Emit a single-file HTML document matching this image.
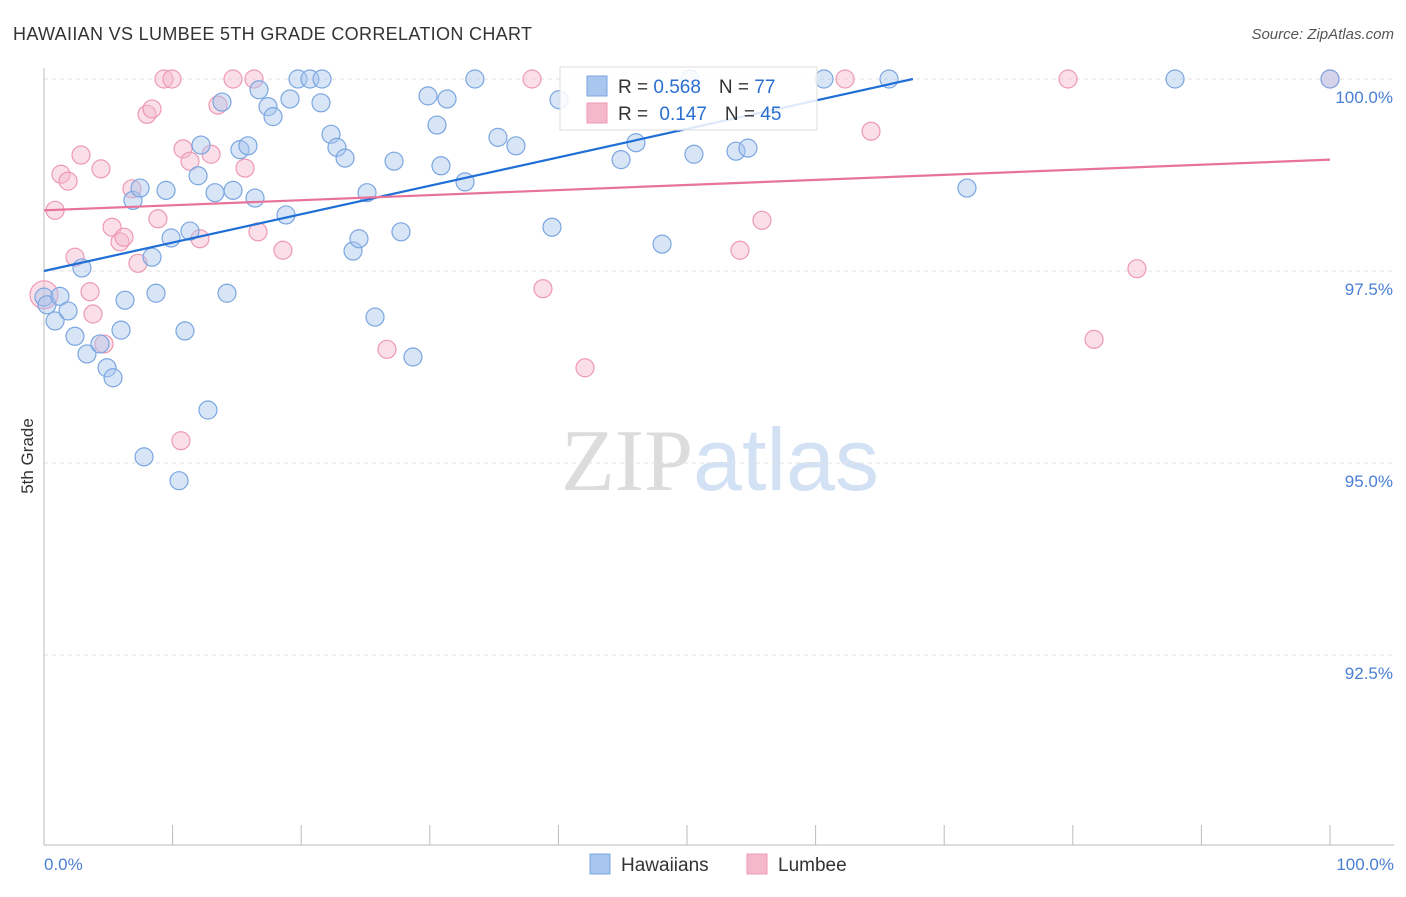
<!DOCTYPE html>
<html><head><meta charset="utf-8"><style>
body{margin:0;background:#fff;font-family:"Liberation Sans",sans-serif}
svg text{font-family:"Liberation Sans",sans-serif}
</style></head><body>
<svg id="chart" width="1406" height="892" viewBox="0 0 1406 892" xmlns="http://www.w3.org/2000/svg">
<text x="13" y="40" font-size="18" textLength="519" fill="#333">HAWAIIAN VS LUMBEE 5TH GRADE CORRELATION CHART</text>
<text x="1394" y="39" font-size="15" fill="#555" font-style="italic" text-anchor="end">Source: ZipAtlas.com</text>
<text x="720" y="490" font-size="88" text-anchor="middle"><tspan fill="#dcdcdc" font-family="Liberation Serif">ZIP</tspan><tspan fill="#d3e1f4">atlas</tspan></text>
<g id="grid"></g>
<g id="axes"></g>
<g id="pinkPts"></g>
<g id="bluePts"></g>
<g id="trends"></g>
<text transform="translate(33,456) rotate(-90)" font-size="17" fill="#333" text-anchor="middle">5th Grade</text>
<g>
<rect x="560" y="67" width="257" height="63" fill="#fff" fill-opacity="0.85" stroke="#ddd"/>
<rect x="587" y="76" width="20" height="20" fill="#a9c6ee" stroke="#7aa6e0"/>
<rect x="587" y="103" width="20" height="20" fill="#f5b8cb" stroke="#ee99b4"/>
<text x="618" y="93" font-size="19" fill="#333">R = <tspan fill="#2a6fd0">0.568</tspan><tspan dx="18">N = </tspan><tspan fill="#2a6fd0">77</tspan></text>
<text x="618" y="120" font-size="19" fill="#333">R = <tspan dx="6" fill="#2a6fd0">0.147</tspan><tspan dx="18">N = </tspan><tspan fill="#2a6fd0">45</tspan></text>
</g>
<g>
<rect x="590" y="854" width="20" height="20" fill="#a9c6ee" stroke="#7aa6e0"/>
<text x="621" y="871" font-size="19" fill="#333">Hawaiians</text>
<rect x="747" y="854" width="20" height="20" fill="#f5b8cb" stroke="#ee99b4"/>
<text x="778" y="871" font-size="19" fill="#333">Lumbee</text>
</g>
</svg>
<script>
const yTicks=[100,97.5,95,92.5];
const yTickLabels=["100.0%","97.5%","95.0%","92.5%"];
const xTickLabels=["0.0%","100.0%"];
const blueX=[0,0.23,0.86,1.24,1.87,2.41,2.95,3.34,4.35,4.9,5.37,5.99,6.3,6.92,7.47,7.78,8.4,8.71,9.49,9.88,10.5,10.96,11.35,11.98,12.21,12.75,13.3,13.84,14.23,14.7,15.24,15.86,16.41,16.72,17.42,17.81,18.82,19.13,19.75,20.68,21.62,21.54,22.32,22.78,23.41,24.03,24.49,25.12,25.74,27.22,27.76,28.69,29.86,30.56,30.87,31.34,32.74,33.51,35.3,36.7,39.5,40.05,44.87,46.03,48.06,50.23,50.54,53.81,54.74,60.65,65.71,71.77,87.95,100];
const blueY=[97.16,97.06,96.85,97.17,96.98,96.65,97.54,96.42,96.55,96.24,96.11,96.73,97.12,98.42,98.58,95.08,97.68,97.21,98.55,97.93,94.77,96.72,98.02,98.74,99.14,95.69,98.52,99.7,97.21,98.55,99.08,99.13,98.45,99.86,99.64,99.51,98.23,99.74,100,100,100,99.69,99.28,99.11,98.97,97.76,97.92,98.52,96.9,98.93,98.01,96.38,99.78,99.4,98.87,99.74,98.66,100,99.24,99.13,98.07,99.73,98.95,99.17,97.85,100,99.02,99.06,99.1,100,100,98.58,100,100];
const pinkX=[0,0.86,1.32,1.87,2.41,2.88,3.58,3.81,4.43,4.67,5.29,5.91,6.22,6.84,7.31,8.01,8.4,8.86,9.33,9.95,10.65,10.81,11.35,12.13,12.99,13.53,14.7,15.63,16.33,16.64,18.58,26.67,37.95,38.8,42.07,54.12,55.83,62.29,64.31,79.63,81.65,84.99,100];
const pinkY=[97.19,98.29,98.76,98.67,97.68,99.01,97.23,96.94,98.83,96.55,98.07,97.88,97.94,98.57,97.6,99.54,99.61,98.18,100,100,95.29,99.09,98.93,97.92,99.02,99.66,100,98.84,100,98.01,97.77,96.48,100,97.27,96.24,97.77,98.16,100,99.32,100,96.61,97.53,100];
const blueTrend=[97.5,101.2];
const pinkTrend=[98.29,98.95];
const NS="http://www.w3.org/2000/svg";
const X0=44,X1=1330,Y100=79,PX=76.8;
const sx=v=>X0+(X1-X0)*v/100;
const sy=v=>Y100+(100-v)*PX;
function mk(t,a,p){const e=document.createElementNS(NS,t);for(const k in a)e.setAttribute(k,a[k]);p.appendChild(e);return e;}
const grid=document.getElementById('grid'),axes=document.getElementById('axes');
yTicks.forEach((v,i)=>{
 const l=mk('line',{x1:X0,x2:1394,y1:sy(v),y2:sy(v),stroke:'#e2e2e2','stroke-dasharray':'4,4'},grid);
 
 
 const t=mk('text',{x:1393,y:sy(v)+24,'font-size':17,fill:'#4a7fd4','text-anchor':'end'},axes);
 t.textContent=yTickLabels[i];
 
 
});
mk('line',{x1:X0,x2:X0,y1:68,y2:845,stroke:'#bbb'},axes);
mk('line',{x1:X0,x2:1394,y1:845,y2:845,stroke:'#bbb'},axes);
for(let i=0;i<=10;i++){const x=sx(i*10);const tk=mk('line',{x1:x,x2:x,y1:825,y2:845,stroke:'#bbb'},axes);
 
 }
[[0,'start',44],[100,'end',1394]].forEach((d,i)=>{const t=mk('text',{x:d[2],y:870,'font-size':17,fill:'#4a7fd4','text-anchor':d[1]},axes);t.textContent=xTickLabels[i];
 
 });
function pts(xs,ys,g,fill,stroke,name){xs.forEach((x,i)=>{const r=(x===0&&name==='lumbee-point')?14:9;
 const c=mk('circle',{cx:sx(x),cy:sy(ys[i]),r:r,fill:fill,'fill-opacity':0.45,stroke:stroke,'stroke-width':1.2},g);
 
 });}
pts(pinkX,pinkY,document.getElementById('pinkPts'),'#f5b8cb','#ee99b4','lumbee-point');
pts(blueX,blueY,document.getElementById('bluePts'),'#a9c6ee','#7aa6e0','hawaiian-point');
const tr=document.getElementById('trends');
let xe=100,ye=blueTrend[1];
if(ye>100){xe=100*(100-blueTrend[0])/(blueTrend[1]-blueTrend[0]);ye=100;}
const bl=mk('line',{x1:sx(0),y1:sy(blueTrend[0]),x2:sx(xe),y2:sy(ye),stroke:'#1f6fd6','stroke-width':2.2},tr);


const pl=mk('line',{x1:sx(0),y1:sy(pinkTrend[0]),x2:sx(100),y2:sy(pinkTrend[1]),stroke:'#e8739a','stroke-width':2.2},tr);


</script>
</body></html>
